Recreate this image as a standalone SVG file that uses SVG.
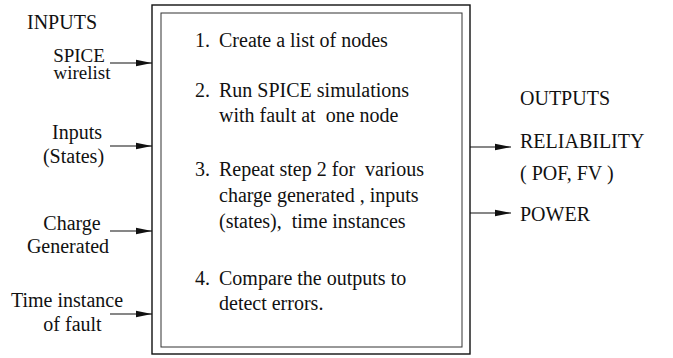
<svg xmlns="http://www.w3.org/2000/svg" width="673" height="358" viewBox="0 0 673 358" font-family="'Liberation Serif', 'Times New Roman', serif">
  <style>
    text { font-size: 20px; fill: #111; white-space: pre; }
    .mid { text-anchor: middle; }
    .tight { font-size: 19px; }
    .box-outer { fill: none; stroke: #111; stroke-width: 1.4; }
    .box-inner { fill: none; stroke: #333; stroke-width: 1; }
    .wire { fill: none; stroke: #111; stroke-width: 1.2; }
  </style>
  <defs>
    <marker id="head" viewBox="0 0 16 8" refX="16" refY="4" markerWidth="16" markerHeight="8" markerUnits="userSpaceOnUse" orient="auto">
      <path d="M0,0.8 L16,4 L0,7.2 Z" fill="#111"/>
    </marker>
  </defs>

  <rect width="673" height="358" fill="#fff"/>

  <!-- input labels -->
  <g id="inputs-title"><text x="27" y="29">INPUTS</text></g>
  <g id="in-spice">
    <text x="79" y="62" class="mid tight">SPICE</text>
    <text x="82" y="79" class="mid tight">wirelist</text>
  </g>
  <g id="in-states">
    <text x="77" y="139" class="mid">Inputs</text>
    <text x="73.5" y="163" class="mid">(States)</text>
  </g>
  <g id="in-charge">
    <text x="72" y="230" class="mid">Charge</text>
    <text x="68" y="253" class="mid">Generated</text>
  </g>
  <g id="in-time">
    <text x="67" y="307" class="mid">Time instance</text>
    <text x="72.5" y="331" class="mid">of fault</text>
  </g>

  <!-- process block -->
  <g id="process">
    <rect class="box-outer" x="152" y="5" width="318" height="349"/>
    <rect class="box-inner" x="161" y="13" width="301" height="334"/>
    <text x="195" y="47">1.</text><text x="219" y="47">Create a list of nodes</text>
    <text x="195" y="97">2.</text><text x="219" y="97">Run SPICE simulations</text>
    <text x="219" y="122" xml:space="preserve">with fault at  one node</text>
    <text x="195" y="176">3.</text><text x="219" y="176" xml:space="preserve">Repeat step 2 for  various</text>
    <text x="219" y="202">charge generated , inputs</text>
    <text x="219" y="228" xml:space="preserve">(states),  time instances</text>
    <text x="195" y="285">4.</text><text x="219" y="285">Compare the outputs to</text>
    <text x="219" y="310">detect errors.</text>
  </g>

  <!-- output labels -->
  <g id="outputs-title"><text x="520" y="105">OUTPUTS</text></g>
  <g id="out-reliability">
    <text x="520" y="148">RELIABILITY</text>
    <text x="520" y="180">( POF, FV )</text>
  </g>
  <g id="out-power"><text x="520" y="221">POWER</text></g>

  <!-- connectors -->
  <g id="connectors">
    <line class="wire" x1="110" y1="63" x2="152" y2="63" marker-end="url(#head)"/>
    <line class="wire" x1="110" y1="146" x2="152" y2="146" marker-end="url(#head)"/>
    <line class="wire" x1="110" y1="231" x2="152" y2="231" marker-end="url(#head)"/>
    <line class="wire" x1="110" y1="314" x2="152" y2="314" marker-end="url(#head)"/>
    <line class="wire" x1="470" y1="147" x2="511" y2="147" marker-end="url(#head)"/>
    <line class="wire" x1="470" y1="213" x2="511" y2="213" marker-end="url(#head)"/>
  </g>
</svg>
